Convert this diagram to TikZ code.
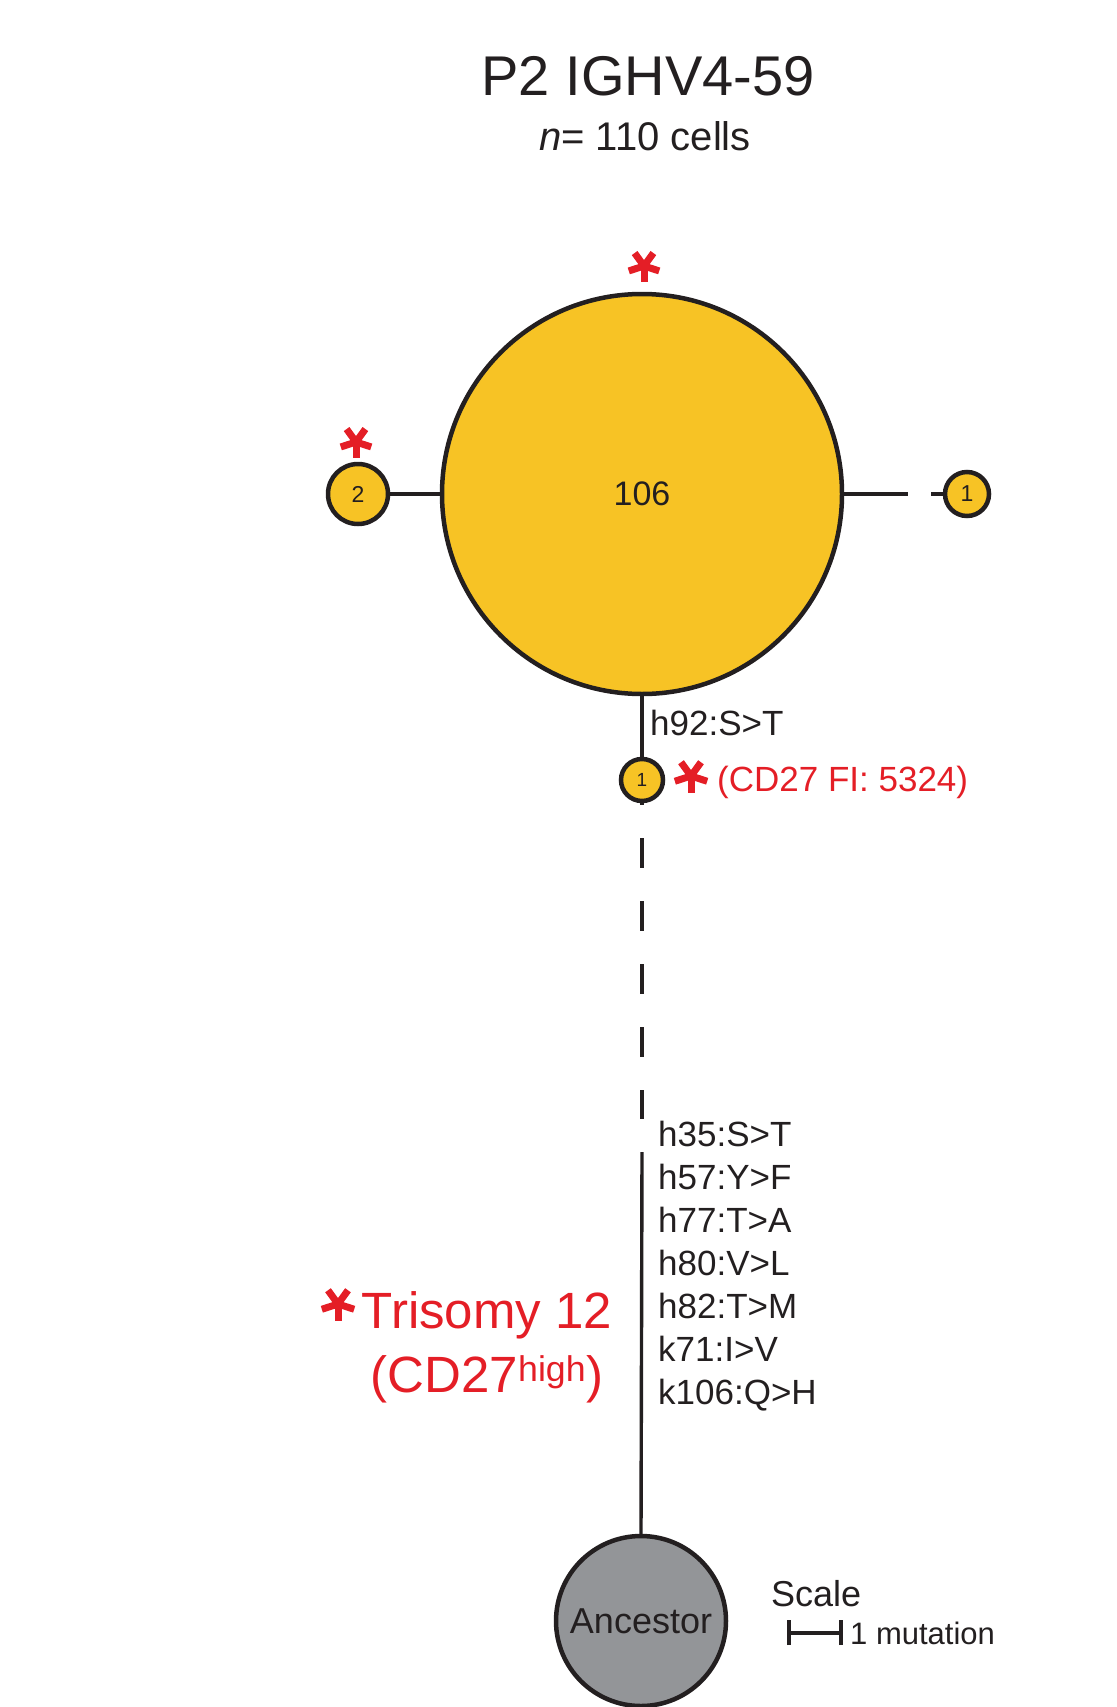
\documentclass[tikz,border=0pt]{standalone}
\usepackage{fontspec}
\setmainfont{Liberation Sans}
\definecolor{cellyellow}{RGB}{247,195,37}
\definecolor{ancgray}{RGB}{147,149,152}
\definecolor{markred}{RGB}{228,30,38}
\definecolor{ink}{RGB}{35,31,32}
\tikzset{
  clone/.style={circle, draw=ink, line width=4.5pt, fill=cellyellow, inner sep=0pt, text=ink},
  ancestor/.style={circle, draw=ink, line width=4.5pt, fill=ancgray, inner sep=0pt, text=ink},
  edge/.style={draw=ink, line width=3.4pt},
  mut/.style={anchor=base west, inner sep=0pt, text=ink, font=\fontsize{35}{35}\selectfont},
  redtext/.style={inner sep=0pt, text=markred},
  pics/ast/.style={code={
    \foreach \a in {90,162,234,306,18}
      \draw[markred, line width=7pt] (0,0) -- (\a:#1);
  }}
}
\begin{document}
\begin{tikzpicture}[x=1pt, y=-1pt]
\useasboundingbox (0,0) rectangle (1116,1707);

% title
\node[inner sep=0pt, text=ink, font=\fontsize{56}{56}\selectfont] (title) at (648,76) {P2 IGHV4-59};
\node[inner sep=0pt, text=ink, anchor=base, font=\fontsize{40}{40}\selectfont] (count) at (645,151) {\textit{n}= 110 cells};

% clones
\node[clone, minimum size=400pt, font=\fontsize{34}{34}\selectfont] (big) at (642,494) {106};
\node[clone, minimum size=60pt, font=\fontsize{23}{23}\selectfont] (c2) at (358,494) {2};
\node[clone, minimum size=44pt, font=\fontsize{23}{23}\selectfont] (cR) at (967,494) {1};
\node[clone, minimum size=42pt, font=\fontsize{19}{19}\selectfont] (c1) at (642,780) {1};
\node[ancestor, minimum size=170pt, font=\fontsize{36}{36}\selectfont] (anc) at (641,1621) {Ancestor};

% connectors
\draw[edge] (big.west) -- (c2.east);
\coordinate (rA) at (908,494);
\coordinate (rB) at (931,494);
\draw[edge] (big.east) -- (rA);
\draw[edge] (rB) -- (cR.west);
\draw[edge] (big.south) -- (c1.north);
\coordinate (d0) at (642,805);
\coordinate (d1) at (642,838);
\coordinate (d2) at (642,1119);
\coordinate (d3) at (642,1152);
\draw[edge] (c1.south) -- (d0);
\draw[edge, dash pattern=on 30pt off 33pt] (d1) -- (d2);
\draw[edge] (d3) -- (anc.north);

% asterisks
\pic at (644,266) {ast=16};
\pic at (356,442) {ast=16};
\pic at (691,776) {ast=17};
\pic at (338,1304) {ast=17};

% mutation labels
\node[mut] (m92) at (650,735) {h92:S>T};
\node[redtext, anchor=base west, font=\fontsize{35}{35}\selectfont] (cd27fi) at (717,791) {(CD27 FI: 5324)};
\node[mut] (m1) at (658,1146) {h35:S>T};
\node[mut] (m2) at (658,1189) {h57:Y>F};
\node[mut] (m3) at (658,1232) {h77:T>A};
\node[mut] (m4) at (658,1275) {h80:V>L};
\node[mut] (m5) at (658,1318) {h82:T>M};
\node[mut] (m6) at (658,1361) {k71:I>V};
\node[mut] (m7) at (658,1404) {k106:Q>H};

% trisomy label
\node[redtext, anchor=base, font=\fontsize{51}{51}\selectfont] (tri) at (487,1328) {Trisomy 12};
\node[redtext, anchor=base, font=\fontsize{51}{51}\selectfont] (cdh) at (487,1392) {(CD27\textsuperscript{high})};

% scale
\node[inner sep=0pt, anchor=base west, text=ink, font=\fontsize{36}{36}\selectfont] (scale) at (771,1606) {Scale};
\coordinate (sa) at (789,1633);
\coordinate (sb) at (841,1633);
\draw[edge] (sa) -- (sb);
\draw[edge] ([yshift=-12pt]sa) -- ([yshift=13pt]sa);
\draw[edge] ([yshift=-12pt]sb) -- ([yshift=13pt]sb);
\node[inner sep=0pt, anchor=base west, text=ink, font=\fontsize{31}{31}\selectfont] (mutl) at (850,1644) {1 mutation};
\end{tikzpicture}
\end{document}
